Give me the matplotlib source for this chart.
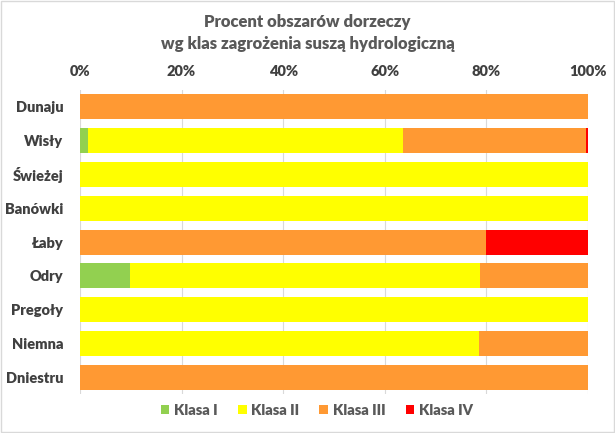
import matplotlib.pyplot as plt
import numpy as np

# data (percent of basin area per class)
basins = ["Dunaju", "Wisły", "Świeżej", "Banówki", "Łaby", "Odry", "Pregoły", "Niemna", "Dniestru"]
klasa_1 = [0.0, 1.5, 0.0, 0.0, 0.0, 9.9, 0.0, 0.0, 0.0]
klasa_2 = [0.0, 62.1, 100.0, 100.0, 0.0, 68.9, 100.0, 78.6, 0.0]
klasa_3 = [100.0, 36.1, 0.0, 0.0, 80.0, 21.2, 0.0, 21.4, 100.0]
klasa_4 = [0.0, 0.3, 0.0, 0.0, 20.0, 0.0, 0.0, 0.0, 0.0]
series_names = ["Klasa I", "Klasa II", "Klasa III", "Klasa IV"]
series_colors = ["#92D050", "#FFFF00", "#FF9933", "#FF0000"]

TXT = "#595959"
plt.rcParams["font.family"] = ["Lato", "DejaVu Sans"]
plt.rcParams["font.weight"] = "bold"

fig = plt.figure(figsize=(6.15, 4.33), dpi=100)
ax = fig.add_axes([0.130, 0.090, 0.826, 0.702])

y = np.arange(len(basins))
left = np.zeros(len(basins))
for vals, name, col in zip([klasa_1, klasa_2, klasa_3, klasa_4], series_names, series_colors):
    vals = np.array(vals)
    ax.barh(y, vals, left=left, height=0.74, color=col, label=name, zorder=3)
    left += vals

ax.set_xlim(0, 100)
ax.set_ylim(len(basins) - 0.5, -0.5)
ax.set_yticks(y)
ax.set_yticklabels(basins)
ax.set_xticks(np.arange(0, 101, 20))
ax.set_xticklabels([f"{v}%" for v in range(0, 101, 20)])
ax.xaxis.tick_top()
ax.tick_params(axis="both", length=0, labelsize=10.5, colors="#404040")
ax.tick_params(axis="x", pad=9)
ax.tick_params(axis="y", pad=12)
for lbl in ax.get_xticklabels() + ax.get_yticklabels():
    lbl.set_fontweight("heavy")
ax.grid(axis="x", color="#D9D9D9", linewidth=0.8, zorder=0)
for s in ax.spines.values():
    s.set_visible(False)

fig.suptitle("Procent obszarów dorzeczy\nwg klas zagrożenia suszą hydrologiczną",
             y=0.968, fontsize=12, fontweight="heavy", color=TXT, linespacing=1.45)

leg = fig.legend(loc="center", bbox_to_anchor=(0.515, 0.052), ncol=4, frameon=False,
                 fontsize=10.5, handlelength=0.6, handleheight=0.6, handletextpad=0.3,
                 columnspacing=1.4)
for t in leg.get_texts():
    t.set_color(TXT)
    t.set_fontweight("heavy")

fig.patches.append(plt.Rectangle((0.002, 0.002), 0.996, 0.996, transform=fig.transFigure,
                                 fill=False, edgecolor="#D9D9D9", linewidth=1.0))

fig.savefig("out.png", dpi=100)
